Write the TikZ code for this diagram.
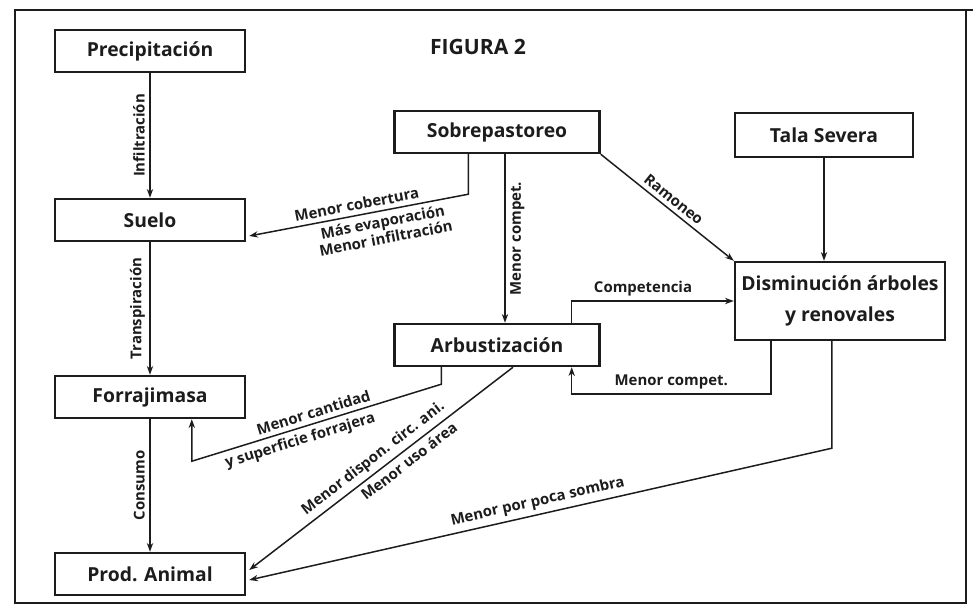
\documentclass[tikz,border=0pt]{standalone}
\usepackage{fontspec}
\setmainfont{Open Sans}
\usetikzlibrary{arrows.meta,calc}
\definecolor{ink}{HTML}{1C1C1C}

\begin{document}
\begin{tikzpicture}[x=0.02cm,y=-0.02cm,>={Stealth[length=5pt,width=3.6pt]},
 box/.style={draw=ink,line width=1.4pt,minimum width=3.8cm,minimum height=0.84cm,inner sep=2pt,
  font=\fontsize{11}{12.5}\selectfont\bfseries,text=ink},
 flow/.style={draw=ink,line width=0.85pt,->},
 lbl/.style={font=\fontsize{8.5}{9.5}\selectfont\bfseries,text=ink,inner sep=2.5pt}]
\useasboundingbox (0,0) rectangle (973,612);
% frame of the figure
\draw[ink,line width=1.2pt] (15,10) rectangle (966,603);
\draw[ink,line width=1.2pt] (966,10) -- (973,10);
\node[font=\fontsize{12}{14}\selectfont\bfseries,text=ink] (fig) at (478,47) {FIGURA 2};
% left column: the water and forage chain
\node[box] (prec) at (150,51) {Precipitación};
\node[box] (suelo) at (150,220) {Suelo};
\node[box] (forra) at (150,397) {Forrajimasa};
\node[box] (prod) at (150,574) {Prod. Animal};
% centre and right: the causes
\node[box,minimum width=4.1cm] (sobre) at (497,132) {Sobrepastoreo};
\node[box,minimum width=4.1cm] (arbus) at (497,345) {Arbustización};
\node[box,minimum width=3.56cm,minimum height=0.88cm] (tala) at (824,135) {Tala Severa};
\node[box,minimum width=4.2cm,minimum height=1.56cm,align=center] (dism) at (840,301) {Disminución árboles\\[5pt]y renovales};
% the chain downwards
\draw[flow] (prec) -- node[lbl,rotate=90,anchor=south] (lInf) {Infiltración} (suelo);
\draw[flow] (suelo) -- node[lbl,rotate=90,anchor=south] (lTra) {Transpiración} (forra);
\draw[flow] (forra) -- node[lbl,rotate=90,anchor=south] (lCon) {Consumo} (prod);
% from Sobrepastoreo
\coordinate (sobreA) at ($(sobre.south west)+(75,0)$);
\coordinate (sueloE) at ($(suelo.east)+(3,16)$);
\draw[flow] (sobreA) -- ++(0,40) coordinate (sobreK)
 -- node[lbl,sloped,above] (lCob) {Menor cobertura}
 node[lbl,sloped,below,pos=0.4,align=center] (lEva) {Más evaporación\\Menor infiltración} (sueloE);
\draw[flow] ($(sobre.south)+(8,0)$) -- node[lbl,rotate=90,anchor=north] (lMc1) {Menor compet.} ($(arbus.north)+(8,0)$);
\draw[flow] (sobre.south east) -- node[lbl,sloped,above] (lRam) {Ramoneo} (dism.north west);
\draw[flow] (tala.south) -- (tala.south |- dism.north);
% the loop between Arbustización and the trees
\draw[flow] ($(arbus.north east)+(-29,0)$) |- node[lbl,above,pos=0.72] (lCom) {Competencia} (dism.west);
\draw[flow] ($(dism.south west)+(37,0)$) -- ++(0,53) -| node[lbl,above,pos=0.25] (lMc2) {Menor compet.} ($(arbus.south east)+(-29,0)$);
% from Arbustización downwards
\coordinate (forraK) at ($(forra.south west)+(138,42)$);
\draw[flow] ($(arbus.south west)+(48,0)$) -- ++(0,17)
 -- node[lbl,sloped,above,pos=0.5] (lCan) {Menor cantidad}
 node[lbl,sloped,below,pos=0.58] (lSup) {y superficie forrajera} (forraK) -- (forraK |- forra.south);
\draw[flow] ($(arbus.south)+(16,0)$)
 -- node[lbl,sloped,above,pos=0.5] (lCir) {Menor dispon. circ. ani.}
 node[lbl,sloped,below,pos=0.42] (lUso) {Menor uso área} ($(prod.east)+(3,-4)$);
\draw[flow] ($(dism.south west)+(98,0)$) -- ++(0,107)
 -- node[lbl,sloped,above,pos=0.5] (lSom) {Menor por poca sombra} ($(prod.east)+(3,6)$);
\end{tikzpicture}
\end{document}
